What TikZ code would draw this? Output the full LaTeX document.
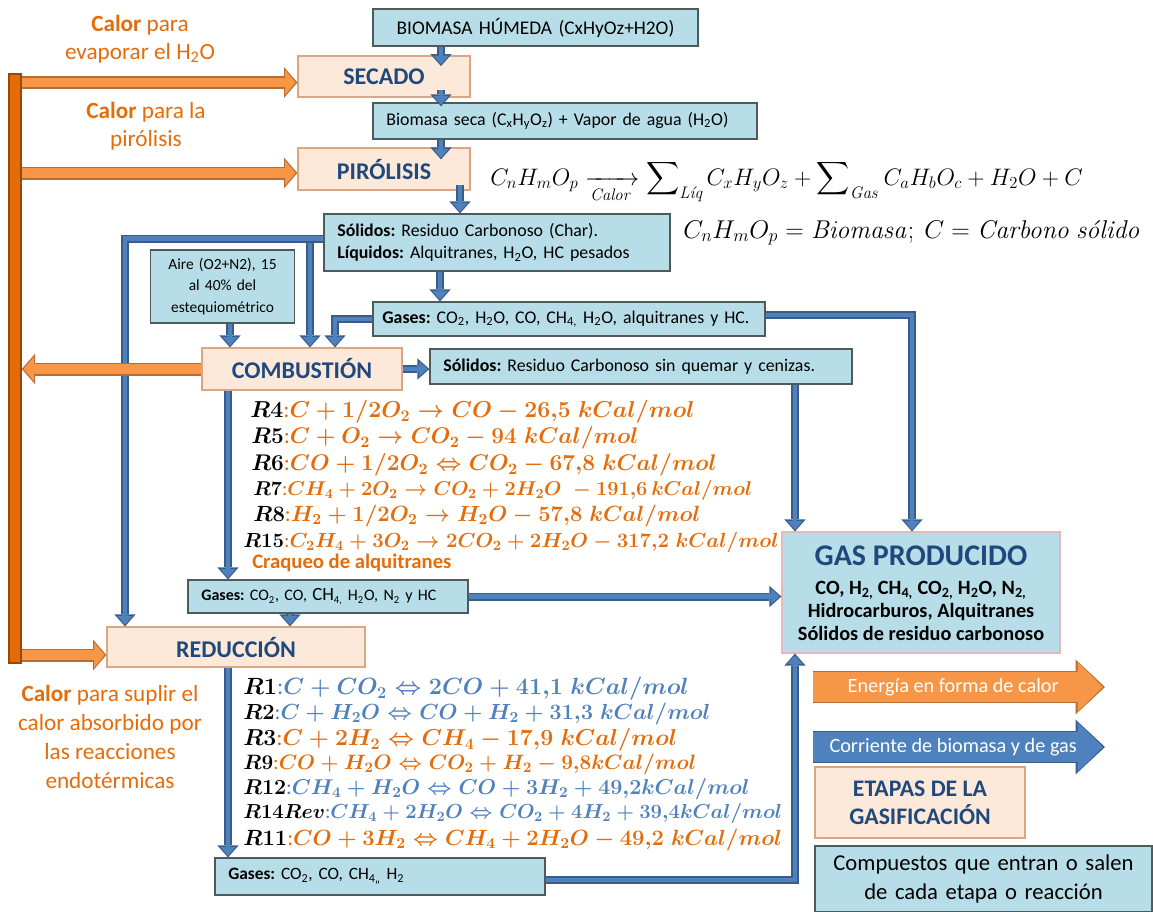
\RequirePackage{fix-cm}
\documentclass[tikz,border=0pt]{standalone}
\usepackage{amsmath}
\usepackage[no-math]{fontspec}
\setmainfont{Carlito}
\newfontfamily\lmr{Latin Modern Roman}
\usetikzlibrary{arrows.meta}
\definecolor{boxfill}{HTML}{B7DEE8}
\definecolor{boxedge}{HTML}{4F5B5B}
\definecolor{gasedge}{HTML}{E6B9B8}
\definecolor{stagefill}{HTML}{FDE9D9}
\definecolor{stageedge}{HTML}{DDA683}
\definecolor{stagetext}{HTML}{1F497D}
\definecolor{flowfill}{HTML}{4F81BD}
\definecolor{flowedge}{HTML}{385D8A}
\definecolor{heatfill}{HTML}{F79646}
\definecolor{heatedge}{HTML}{B66D31}
\definecolor{barfill}{HTML}{E36C09}
\definecolor{baredge}{HTML}{984807}
\definecolor{heattext}{HTML}{E46C0A}
\definecolor{rxnorange}{HTML}{E46C0A}
\definecolor{rxnblue}{HTML}{4F81BD}
\newcommand\chsub[1]{\textsubscript{#1}}
\newcommand\fsz[2]{\fontsize{#1}{#2}\selectfont}
\newcommand\lmit[1]{\text{\lmr\itshape #1}}
\tikzset{
  gzbox/.style={draw=boxedge, fill=boxfill, line width=.9pt, inner xsep=10pt, inner ysep=0pt, align=left, font=\fsz{13.4}{17}, text width=#1},
  gzstage/.style={draw=stageedge, fill=stagefill, line width=.9pt, text=stagetext, font=\fsz{18}{21}\bfseries, align=center},
  gzflow/.style={draw=flowfill, line width=3.6pt, shorten >=1.3pt, -{Triangle[width=11.5pt,length=6.5pt,line width=0pt]},
    preaction={draw=flowedge, line width=6pt, shorten >=0pt, -{Triangle[width=16pt,length=9pt,line width=0pt]}}},
  gzheat/.style={draw=heatfill, line width=7pt, shorten >=1.3pt, -{Triangle[width=19pt,length=8pt,line width=0pt]},
    preaction={draw=heatedge, line width=9.75pt, shorten >=0pt, -{Triangle[width=23pt,length=10pt,line width=0pt]}}},
  gzlegheat/.style={draw=heatfill, line width=22pt, shorten >=1.5pt, -{Triangle[width=37pt,length=19pt,line width=0pt]},
    preaction={draw=heatedge, line width=24pt, shorten >=0pt, -{Triangle[width=41pt,length=22pt,line width=0pt]}}},
  gzlegflow/.style={draw=flowfill, line width=22pt, shorten >=1.5pt, -{Triangle[width=37pt,length=19pt,line width=0pt]},
    preaction={draw=flowedge, line width=24pt, shorten >=0pt, -{Triangle[width=41pt,length=22pt,line width=0pt]}}},
  gzlabel/.style={text=heattext, font=\fsz{17.4}{21}, align=center},
  gzrxn/.style={anchor=west, inner sep=0pt, font=\fsz{#1}{19}\boldmath},
  gzlegtext/.style={text=white, font=\fsz{15.2}{17}}
}
\begin{document}
\frenchspacing
\begin{tikzpicture}[x=0.75pt,y=-0.75pt]
\useasboundingbox (0,0) rectangle (1153,911);
\coordinate (colA) at (441,0);
\coordinate (colB) at (460,0);
\coordinate (colC) at (440,0);
\coordinate (colF) at (125,0);
\coordinate (colG) at (310,0);
\coordinate (colH) at (230,0);
\coordinate (colI) at (335,0);
\coordinate (colJ) at (912,0);
\coordinate (colK) at (795,0);
\coordinate (colL) at (228,0);
\coordinate (colM) at (290,0);

\node[draw=baredge, fill=barfill, line width=1.2pt, minimum width=9pt, minimum height=441.75pt, inner sep=0pt] (bar) at (15,368.5) {};

\node[gzbox=223.75pt, align=center, font=\fsz{14.5}{17}, minimum height=27.75pt] (humeda) at (535.5,27.5) {BIOMASA HÚMEDA (CxHyOz+H2O)};
\node[gzstage, minimum width=129pt, minimum height=30.75pt] (secado) at (384,76.5) {SECADO};
\node[gzbox=268pt, minimum height=27pt] (seca) at (565,121) {Biomasa seca (C\chsub{x}H\chsub{y}O\chsub{z}) + Vapor de agua (H\chsub{2}O)};
\node[gzstage, minimum width=129pt, minimum height=31.5pt] (pirolisis) at (384,169) {PIRÓLISIS};
\node[gzbox=239.5pt, minimum height=42.75pt] (char) at (497,242.5) {\textbf{Sólidos:} Residuo Carbonoso (Char).\\\textbf{Líquidos:} Alquitranes, H\chsub{2}O, HC pesados};
\node[gzbox=100pt, align=center, inner xsep=4pt, font=\fsz{11.6}{16}, minimum height=54.75pt] (aire) at (222.5,286.5) {Aire (O2+N2), 15\\al 40\% del\\estequiométrico};
\node[gzbox=280pt, inner xsep=7pt, minimum height=25.5pt] (gasesA) at (569,319) {\textbf{Gases:} CO\chsub{2}, H\chsub{2}O, CO, CH\chsub{4,} H\chsub{2}O, alquitranes y HC.};
\node[gzstage, minimum width=150pt, minimum height=31.5pt] (combustion) at (302,369) {COMBUSTIÓN};
\node[gzbox=296.5pt, minimum height=26.25pt] (solidos) at (641,366.5) {\textbf{Sólidos:} Residuo Carbonoso sin quemar y cenizas.};
\node[gzbox=190pt, font=\fsz{12}{14}, minimum height=24.75pt] (gasesB) at (328,596.5) {\textbf{Gases:} CO\chsub{2}, CO, {\fsz{14}{14}CH}\chsub{4,} H\chsub{2}O, N\chsub{2}\ y HC};
\node[gzstage, minimum width=193.5pt, minimum height=30pt] (reduccion) at (236,647) {REDUCCIÓN};
\node[gzbox=227.5pt, font=\fsz{13}{17}, minimum height=27.75pt] (gasesC) at (380,876.5) {\textbf{Gases:} CO\chsub{2}, CO, CH\chsub{4,,} H\chsub{2}};
\node[gzbox=188.5pt, draw=gasedge, minimum height=90.75pt] (gasprod) at (921,592.5) {};
\node[text=stagetext, font=\fsz{22.5}{25}\bfseries] (gastitle) at (921,556) {GAS PRODUCIDO};
\node[font=\fsz{15.2}{17.4}\bfseries, align=center] (gaslist) at (921,611) {CO, H\chsub{2,} CH\chsub{4,} CO\chsub{2,} H\chsub{2}O, N\chsub{2,}\\Hidrocarburos, Alquitranes\\Sólidos de residuo carbonoso};
\node[gzstage, font=\fsz{17.8}{21}\bfseries, minimum width=157.5pt, minimum height=53.25pt] (etapas) at (920,802.5) {ETAPAS DE LA\\GASIFICACIÓN};
\node[gzbox=232.75pt, align=center, font=\fsz{17}{21.5}, minimum height=49.5pt] (compuestos) at (983.5,879) {Compuestos que entran o salen\\de cada etapa o reacción};

\draw[gzflow] (colA |- humeda.south) -- ([yshift=-8pt]colA |- secado.north);
\draw[gzflow] ([yshift=6pt]colA |- secado.south) -- ([yshift=-3pt]colA |- seca.north);
\draw[gzflow] (colA |- seca.south) -- ([yshift=-9pt]colA |- pirolisis.north);
\draw[gzflow] ([yshift=4pt]colB |- pirolisis.south) -- (colB |- char.north);
\draw[gzflow] (colC |- char.south) -- (colC |- gasesA.north);
\draw[gzflow] ([yshift=3pt]char.west -| colG) -- (colG |- combustion.north);
\draw[gzflow] ([yshift=3pt]char.west) -| (colF |- reduccion.north);
\draw[gzflow] (colH |- aire.south) -- (colH |- combustion.north);
\draw[gzflow] (gasesA.west) -| (colI |- combustion.north);
\draw[gzflow] ([yshift=3pt]gasesA.east) -| (colJ |- gasprod.north);
\draw[gzflow] (combustion.east) -- (combustion.east -| solidos.west);
\draw[gzflow] (colK |- solidos.south) -- (colK |- gasprod.north);
\draw[gzflow] (colL |- combustion.south) -- (colL |- gasesB.north);
\draw[gzflow] (gasesB.east) -- (gasesB.east -| gasprod.west);
\draw[gzflow] (colM |- gasesB.south) -- (colM |- reduccion.north);
\draw[gzflow] (colL |- reduccion.south) -- (colL |- gasesC.north);
\draw[gzflow] ([yshift=-2.6pt]gasesC.east) -| (colK |- gasprod.south);

\draw[gzheat] ([yshift=-4.5pt]bar.east |- secado.west) -- ([yshift=-4.5pt]secado.west);
\draw[gzheat] ([yshift=-3pt]bar.east |- pirolisis.west) -- ([yshift=-3pt]pirolisis.west);
\draw[gzheat] (combustion.west) -- (combustion.west -| bar.east);
\draw[gzheat] ([yshift=-6pt]bar.east |- reduccion.west) -- ([yshift=-6pt]reduccion.west);

\coordinate (heatL) at (813,687);
\coordinate (heatR) at (1105,687);
\coordinate (flowL) at (813,747);
\coordinate (flowR) at (1105,747);
\draw[gzlegheat] (heatL) -- (heatR) node[gzlegtext, pos=.48] (heatkey) {Energía en forma de calor};
\draw[gzlegflow] (flowL) -- (flowR) node[gzlegtext, pos=.48] (flowkey) {Corriente de biomasa y de gas};

\node[gzlabel] (calor1) at (140,39) {\textbf{Calor} para\\evaporar el H\chsub{2}O};
\node[gzlabel] (calor2) at (146,126) {\textbf{Calor} para la\\pirólisis};
\node[gzlabel, font=\fsz{17.4}{21.75}] (calor3) at (110,737) {\textbf{Calor} para suplir el\\calor absorbido por\\las reacciones\\endotérmicas};

\node[anchor=base west, inner sep=0pt, font=\fsz{17.9}{22}] (pyro) at (490,185) {$C_nH_mO_p \xrightarrow[\mathit{Calor}]{} \displaystyle\sum\nolimits_{\lmit{Líq}} C_xH_yO_z + \sum\nolimits_{\mathit{Gas}} C_aH_bO_c + H_2O + C$};
\node[anchor=base west, inner sep=0pt, font=\fsz{19.3}{22}] (pyrodef) at (683,238) {$C_nH_mO_p = \mathit{Biomasa};\ C = \mathit{Carbono}\ \lmit{sólido}$};

\node[gzrxn=17.3, text=rxnorange] (r4) at (250,412) {\textcolor{black}{$R4$}:$C+1/2O_2\rightarrow CO-26{,}5\;kCal/mol$};
\node[gzrxn=17, text=rxnorange] (r5) at (251,438) {\textcolor{black}{$R5$}:$C+O_2\rightarrow CO_2-94\;kCal/mol$};
\node[gzrxn=17, text=rxnorange] (r6) at (251,465) {\textcolor{black}{$R6$}:$CO+1/2O_2\Leftrightarrow CO_2-67{,}8\;kCal/mol$};
\node[gzrxn=15, text=rxnorange] (r7) at (253,490) {\textcolor{black}{$R7$}:$CH_4+2O_2\rightarrow CO_2+2H_2O\;-191{,}6\,kCal/mol$};
\node[gzrxn=16.5, text=rxnorange] (r8) at (253,516) {\textcolor{black}{$R8$}:$H_2+1/2O_2\rightarrow H_2O-57{,}8\;kCal/mol$};
\node[gzrxn=15.3, text=rxnorange] (r15) at (243,542) {\textcolor{black}{$R15$}:$C_2H_4+3O_2\rightarrow 2CO_2+2H_2O-317{,}2\;kCal/mol$};
\node[anchor=west, inner sep=0pt, text=heattext, font=\fsz{15.5}{18}\bfseries] (craqueo) at (252,563) {Craqueo de alquitranes};

\node[gzrxn=17.6, text=rxnblue] (r1) at (243,689) {\textcolor{black}{$R1$}:$C+CO_2\Leftrightarrow 2CO+41{,}1\;kCal/mol$};
\node[gzrxn=16.4, text=rxnblue] (r2) at (243,714) {\textcolor{black}{$R2$}:$C+H_2O\Leftrightarrow CO+H_2+31{,}3\;kCal/mol$};
\node[gzrxn=17.3, text=rxnorange] (r3) at (243,740) {\textcolor{black}{$R3$}:$C+2H_2\Leftrightarrow CH_4-17{,}9\;kCal/mol$};
\node[gzrxn=15.6, text=rxnorange] (r9) at (243,764) {\textcolor{black}{$R9$}:$CO+H_2O\Leftrightarrow CO_2+H_2-9{,}8kCal/mol$};
\node[gzrxn=16.1, text=rxnblue] (r12) at (243,789) {\textcolor{black}{$R12$}:$CH_4+H_2O\Leftrightarrow CO+3H_2+49{,}2kCal/mol$};
\node[gzrxn=15.2, text=rxnblue] (r14) at (243,813) {\textcolor{black}{$R14Rev$}:$CH_4+2H_2O\Leftrightarrow CO_2+4H_2+39{,}4kCal/mol$};
\node[gzrxn=16.5, text=rxnorange] (r11) at (243,840) {\textcolor{black}{$R11$}:$CO+3H_2\Leftrightarrow CH_4+2H_2O-49{,}2\;kCal/mol$};
\end{tikzpicture}
\end{document}
